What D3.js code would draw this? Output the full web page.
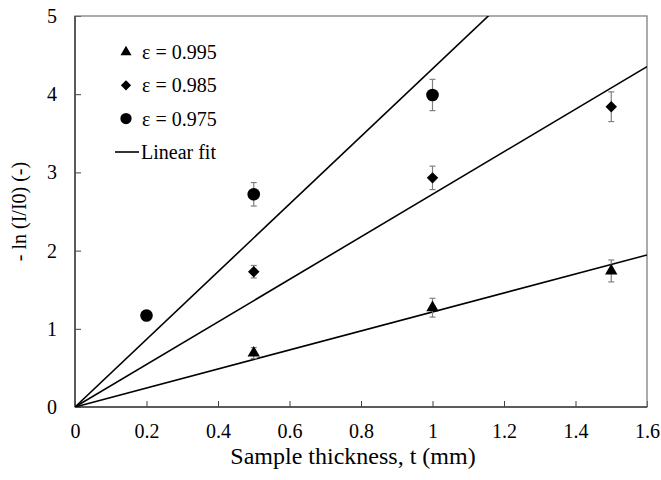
<!DOCTYPE html>
<html>
<head>
<meta charset="utf-8">
<script src="https://cdn.jsdelivr.net/npm/d3@7"></script>
</head>
<body style="margin:0; background:#fff">
<div id="chart"></div>
<script>
// data
const thickness = [0.2, 0.5, 1.0, 1.5];
const labels = ["ε = 0.995", "ε = 0.985", "ε = 0.975"];
const y995 = [null, 0.69, 1.27, 1.74];
const e995 = [null, 0.07, 0.12, 0.14];
const y985 = [null, 1.73, 2.93, 3.84];
const e985 = [null, 0.08, 0.15, 0.19];
const y975 = [1.17, 2.72, 3.99, null];
const e975 = [0, 0.15, 0.2, null];
const slopes = [1.215, 2.72, 4.325];
const xTicks = [0, 0.2, 0.4, 0.6, 0.8, 1, 1.2, 1.4, 1.6];
const yTicks = [0, 1, 2, 3, 4, 5];

const width = 661;
const height = 480;
const margin = {top:16, right:14, bottom:73, left:75};
const serif = "'Liberation Serif'";

const svg = d3.select("#chart")
              .append("svg")
              .attr("width", width)
              .attr("height", height);

const x = d3.scaleLinear().domain([0, 1.6]).range([margin.left, width - margin.right]);
const y = d3.scaleLinear().domain([0, 5]).range([height - margin.bottom, margin.top]);

svg.append("clipPath").attr("id", "clip")
   .append("rect")
   .attr("x", x(0)).attr("y", y(5))
   .attr("width", x(1.6) - x(0)).attr("height", y(0) - y(5));

// axes, ticks inside
const xAxis = svg.append("g")
    .attr("transform", `translate(0,${y(0)})`)
    .call(d3.axisBottom(x).tickValues(xTicks).tickSize(-6).tickPadding(20)
          .tickFormat(d => String(+d.toFixed(1))));
const yAxis = svg.append("g")
    .attr("transform", `translate(${x(0)},0)`)
    .call(d3.axisLeft(y).tickValues(yTicks).tickSize(-6).tickPadding(18)
          .tickFormat(d3.format("d")));

[xAxis, yAxis].forEach(g => {
  g.select(".domain").remove();
  g.selectAll(".tick line").attr("stroke", "#404040");
  g.selectAll(".tick text")
   .style("font-family", serif).style("font-size", "20px").attr("fill", "#000");
});
xAxis.selectAll(".tick text").attr("dy", "0.55em");

// frame
svg.append("rect")
   .attr("x", x(0)).attr("y", y(5))
   .attr("width", x(1.6) - x(0)).attr("height", y(0) - y(5))
   .attr("fill", "none").attr("stroke", "#7f7f7f").attr("stroke-width", 1.3);
svg.append("line")
   .attr("x1", x(0)).attr("x2", x(1.6)).attr("y1", y(0)).attr("y2", y(0))
   .attr("stroke", "#404040").attr("stroke-width", 1.5);
svg.append("line")
   .attr("x1", x(0)).attr("x2", x(0)).attr("y1", y(0)).attr("y2", y(5))
   .attr("stroke", "#404040").attr("stroke-width", 1.5);

// linear fits through the origin
svg.append("g").attr("clip-path", "url(#clip)")
   .selectAll("line").data(slopes).enter()
   .append("line")
   .attr("x1", x(0)).attr("y1", y(0))
   .attr("x2", x(1.6)).attr("y2", s => y(s * 1.6))
   .attr("stroke", "#000").attr("stroke-width", 1.6);

const series = [
  {vals: y995, errs: e995, shape: d3.symbolTriangle, size: 66, rot: 0},
  {vals: y985, errs: e985, shape: d3.symbolSquare, size: 66, rot: 45},
  {vals: y975, errs: e975, shape: d3.symbolCircle, size: 125, rot: 0}
];

series.forEach(s => {
  const pts = thickness.map((t, i) => ({t: t, v: s.vals[i], e: s.errs[i]})).filter(p => p.v !== null);
  const eb = svg.append("g").attr("stroke", "#808080").attr("stroke-width", 1.2);
  pts.filter(p => p.e > 0).forEach(p => {
    eb.append("line").attr("x1", x(p.t)).attr("x2", x(p.t))
      .attr("y1", y(p.v - p.e)).attr("y2", y(p.v + p.e));
    [p.v - p.e, p.v + p.e].forEach(v => {
      eb.append("line").attr("x1", x(p.t) - 3).attr("x2", x(p.t) + 3)
        .attr("y1", y(v)).attr("y2", y(v));
    });
  });
  svg.append("g").selectAll("path").data(pts).enter()
     .append("path")
     .attr("d", d3.symbol().type(s.shape).size(s.size))
     .attr("transform", p => `translate(${x(p.t)},${y(p.v)}) rotate(${s.rot})`)
     .attr("fill", "#000");
});

// legend
const legend = svg.append("g");
series.forEach((s, i) => {
  const ly = 52 + i * 33.3;
  legend.append("path")
        .attr("d", d3.symbol().type(s.shape).size(s.size * 0.8))
        .attr("transform", `translate(126,${ly}) rotate(${s.rot})`)
        .attr("fill", "#000");
  legend.append("text")
        .attr("x", 142).attr("y", ly).attr("dy", "0.35em")
        .style("font-family", serif).style("font-size", "20px")
        .text(labels[i]);
});
legend.append("line")
      .attr("x1", 115).attr("x2", 139).attr("y1", 152).attr("y2", 152)
      .attr("stroke", "#000").attr("stroke-width", 1.6);
legend.append("text")
      .attr("x", 141).attr("y", 152).attr("dy", "0.35em")
      .style("font-family", serif).style("font-size", "20px")
      .text("Linear fit");

// axis titles
svg.append("text")
   .attr("x", 353).attr("y", 464)
   .attr("text-anchor", "middle")
   .style("font-family", serif).style("font-size", "24px")
   .text("Sample thickness, t (mm)");
svg.append("text")
   .attr("transform", `translate(26,${(y(0) + y(5)) / 2}) rotate(-90)`)
   .attr("text-anchor", "middle")
   .style("font-family", serif).style("font-size", "20px")
   .text("- ln (I/I0) (-)");
</script>
</body>
</html>
